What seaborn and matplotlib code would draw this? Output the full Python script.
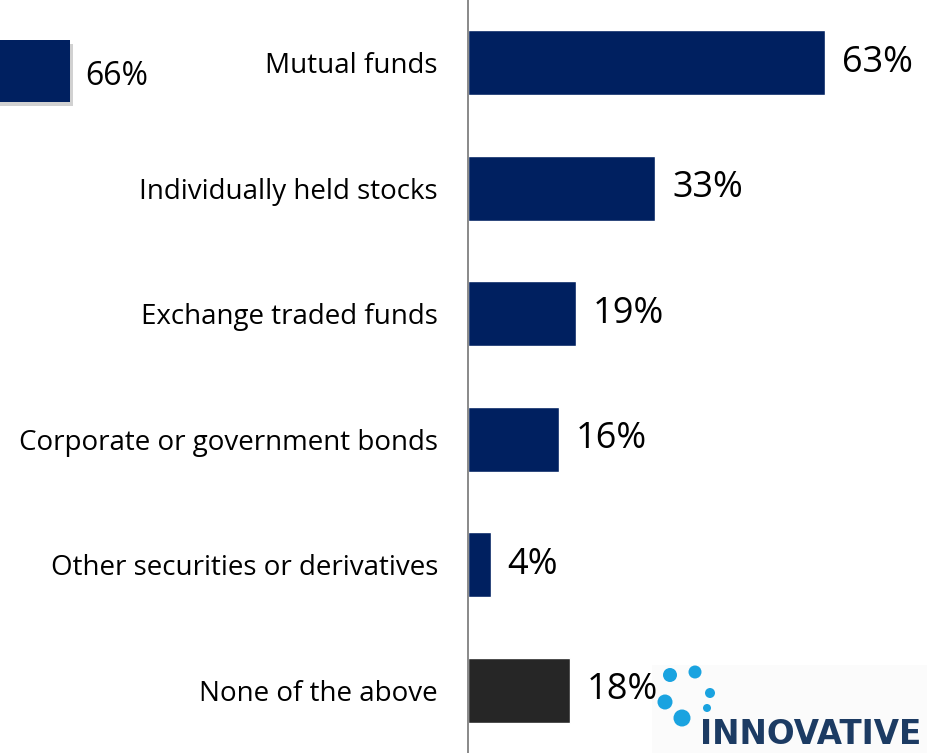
import matplotlib
matplotlib.use("Agg")
import matplotlib.pyplot as plt
import matplotlib.patheffects as pe
from matplotlib.patches import Circle, Rectangle
import seaborn as sns
import pandas as pd

categories = ["Mutual funds", "Individually held stocks", "Exchange traded funds",
              "Corporate or government bonds", "Other securities or derivatives",
              "None of the above"]
values = [63, 33, 19, 16, 4, 18]
bar_colors = ["#002060", "#002060", "#002060", "#002060", "#002060", "#262626"]
value_labels = ["63%", "33%", "19%", "16%", "4%", "18%"]

fragment_value = [66]
fragment_label = ["66%"]

sns.set_theme(style="white")
plt.rcParams["font.family"] = ["Open Sans", "DejaVu Sans"]

W, H = 928, 753
fig = plt.figure(figsize=(W / 100, H / 100), dpi=100)
fig.patch.set_facecolor("white")

px_per_pct = 357 / 63.0

# logo overlay (behind the chart)
axl = fig.add_axes([0, 0, 1, 1], zorder=0)
axl.set_xlim(0, W)
axl.set_ylim(H, 0)
axl.axis("off")
axl.add_patch(Rectangle((652, 665), W - 652, H - 665, facecolor="#fbfbfb", edgecolor="none"))
dots = [(670, 675, 7), (695, 672, 6.5), (710, 693, 5), (665, 702, 7.5), (707, 708, 4), (682, 718, 8.5)]
for cx, cy, r in dots:
    axl.add_patch(Circle((cx, cy), r, facecolor="#1aa3e0", edgecolor="none"))
axl.text(700, 751.5, "INNOVATIVE", fontsize=23.5, fontweight="bold", color="#1c3b63",
         ha="left", va="bottom", family=["DejaVu Sans"])

# main axes
ax = fig.add_axes([468 / W, 0, (W - 468) / W, 1], zorder=1)
ax.patch.set_alpha(0)
df = pd.DataFrame({"cat": categories, "val": values})
sns.barplot(data=df, x="val", y="cat", hue="cat", palette=bar_colors, legend=False,
            orient="h", width=0.52, saturation=1, ax=ax)
ax.set_xlim(0, (W - 468) / px_per_pct)
ax.set_ylim(5.5, -0.5)
ax.set_xlabel("")
ax.set_ylabel("")
ax.set_xticks([])
for s in ["top", "right", "bottom"]:
    ax.spines[s].set_visible(False)
ax.spines["left"].set_color("#808080")
ax.spines["left"].set_linewidth(1.3)
ax.tick_params(axis="y", length=0, pad=21.6, labelsize=20, labelcolor="black")
for i, (v, lab) in enumerate(zip(values, value_labels)):
    ax.text(v + 17 / px_per_pct, i, lab, va="center", ha="left", fontsize=26, color="black")

# fragment of neighbouring chart (top-left)
ax2 = fig.add_axes([0, (H - 122) / H, 160 / W, 102 / H], zorder=1)
ax2.patch.set_alpha(0)
x0 = fragment_value[0] - 70 / px_per_pct
sns.barplot(x=fragment_value, y=[0], orient="h", color="#002060", saturation=1,
            width=0.61, ax=ax2, native_scale=True)
ax2.set_xlim(x0, x0 + 160 / px_per_pct)
ax2.set_ylim(0.5, -0.5)
ax2.axis("off")
for p in ax2.patches:
    p.set_edgecolor("none")
    p.set_path_effects([pe.SimplePatchShadow(offset=(2.5, -3), shadow_rgbFace="#000000", alpha=0.18),
                        pe.Normal()])
ax2.text(fragment_value[0] + 15 / px_per_pct, 0.05, fragment_label[0], va="center", ha="left",
         fontsize=23, color="black")

fig.savefig("out.png", dpi=100)
